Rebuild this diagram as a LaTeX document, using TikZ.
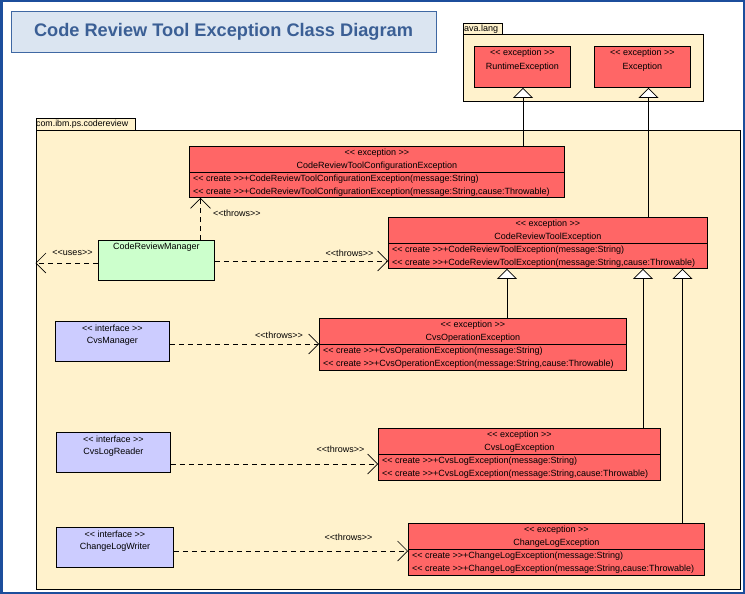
\documentclass[tikz,border=0pt]{standalone}
\usepackage{fontspec}
\setmainfont{Liberation Sans}
\usetikzlibrary{arrows.meta}
\definecolor{pkgfill}{HTML}{FFF2CC}
\definecolor{excfill}{HTML}{FF6666}
\definecolor{mgrfill}{HTML}{CCFFCC}
\definecolor{intfill}{HTML}{CCCCFF}
\definecolor{titlefill}{HTML}{DBE5F1}
\definecolor{titleline}{HTML}{3F68A3}
\definecolor{titletext}{HTML}{3B5F95}
\definecolor{frameblue}{HTML}{1C4E9C}
\newcommand\umlL{<\kern0pt<}
\newcommand\umlR{>\kern0pt>}
\newcommand\excbox[6]{%
  \node[exc, minimum width=#4pt-#2pt, minimum height=#5pt-#3pt] (#1) at (#2,#3) {};
  \draw[line width=0.9pt] ([yshift=-26.5pt]#1.north west) -- ([yshift=-26.5pt]#1.north east);
  \node[txt] (#1-st) at ([yshift=-7pt]#1.north) {\umlL{} exception \umlR};
  \node[txt] (#1-nm) at ([yshift=-20.5pt]#1.north) {#6};
  \node[txt, anchor=west] (#1-m1) at ([xshift=4pt,yshift=-33pt]#1.north west) {\umlL{} create \umlR{}+#6(message:String)};
  \node[txt, anchor=west] (#1-m2) at ([xshift=4pt,yshift=-46.5pt]#1.north west) {\umlL{} create \umlR{}+#6(message:String,cause:Throwable)};
}
\newcommand\intbox[6]{%
  \node[box, fill=intfill, minimum width=#4pt-#2pt, minimum height=#5pt-#3pt] (#1) at (#2,#3) {};
  \node[txt] (#1-st) at ([yshift=-7pt]#1.north) {\umlL{} interface \umlR};
  \node[txt] (#1-nm) at ([yshift=-20.5pt]#1.north) {#6};
}
\begin{document}
\begin{tikzpicture}[x=1pt,y=-1pt,
  txt/.style={inner sep=0pt, font=\fontsize{9}{10}\selectfont},
  box/.style={draw=black, line width=0.9pt, inner sep=0pt, anchor=north west},
  exc/.style={box, fill=excfill},
  pkg/.style={draw=black, line width=0.9pt, fill=pkgfill, inner sep=0pt, anchor=north west},
  dep/.style={draw=black, line width=0.8pt, dash pattern=on 5pt off 4pt,
    -{Straight Barb[length=10pt,width=20pt,line width=0.7pt]}},
  gen/.style={draw=black, line width=0.8pt,
    -{Triangle[length=10pt,width=20pt,fill=white,line width=0.7pt]}},
  lbl/.style={txt},
]
\useasboundingbox (0,0) rectangle (745,594);
\fill[white] (0,0) rectangle (745,594);
\draw[frameblue, line width=2.5pt] (1.25,1.25) rectangle (743.75,592.75);

% title
\node[draw=titleline, fill=titlefill, line width=1pt, minimum width=425pt, minimum height=41pt,
  anchor=north west, text=titletext, font=\fontsize{18.2}{20}\selectfont\bfseries] (title) at (10.5,11)
  {Code Review Tool Exception Class Diagram};

% java.lang package
\node[pkg, minimum width=39pt, minimum height=11pt] (jltab) at (463,23) {};
\node[txt, anchor=west, font=\fontsize{9}{10}\selectfont] (jltabtext) at ([xshift=0.8pt]jltab.west) {ava.lang};
\node[pkg, minimum width=240pt, minimum height=67pt] (jl) at (463,34) {};

% com.ibm.ps.codereview package
\node[pkg, minimum width=99pt, minimum height=12pt] (comtab) at (35.5,118) {};
\node[txt, anchor=west, font=\fontsize{8.8}{10}\selectfont] (comtabtext) at ([xshift=0.5pt]comtab.west) {com.ibm.ps.codereview};
\node[pkg, minimum width=704.5pt, minimum height=459pt] (com) at (35.5,130) {};

% java.lang classes
\node[exc, minimum width=96pt, minimum height=41pt] (rte) at (474,46) {};
\node[txt] (rte-st) at ([yshift=-7pt]rte.north) {\umlL{} exception \umlR};
\node[txt] (rte-nm) at ([yshift=-21pt]rte.north) {RuntimeException};
\node[exc, minimum width=96pt, minimum height=41pt] (exc) at (594,46) {};
\node[txt] (exc-st) at ([yshift=-7pt]exc.north) {\umlL{} exception \umlR};
\node[txt] (exc-nm) at ([yshift=-21pt]exc.north) {Exception};

% exceptions
\excbox{crtce}{189}{146}{564}{197}{CodeReviewToolConfigurationException}
\excbox{crte}{388}{217}{707}{268}{CodeReviewToolException}
\excbox{cvsop}{319}{318}{626}{370}{CvsOperationException}
\excbox{cvslog}{378}{428}{660}{480}{CvsLogException}
\excbox{chlog}{408}{523}{704}{575}{ChangeLogException}

% manager
\node[box, fill=mgrfill, minimum width=116pt, minimum height=40pt] (crm) at (98,240) {};
\node[txt] (crm-nm) at ([yshift=-7pt]crm.north) {CodeReviewManager};

% interfaces
\intbox{cvsmgr}{55}{321}{169}{361}{CvsManager}
\intbox{cvslr}{56}{432}{170}{472}{CvsLogReader}
\intbox{clw}{56}{527}{173}{567}{ChangeLogWriter}

% generalizations
\draw[gen] (crtce.north -| 523,0) -- (rte.south -| 523,0);
\draw[gen] (crte.north -| 648.5,0) -- (exc.south -| 648.5,0);
\draw[gen] (cvsop.north -| 507,0) -- (crte.south -| 507,0);
\draw[gen] (cvslog.north -| 643,0) -- (crte.south -| 643,0);
\draw[gen] (chlog.north -| 682.5,0) -- (crte.south -| 682.5,0);

% dependencies
\coordinate (usesend) at (com.west |- 0,263);
\draw[dep] (crm.west |- usesend) -- (usesend);
\node[lbl] (usesl) at (72.5,253) {\umlL{}uses\umlR};
\draw[dep] (crm.north -| 200.5,0) -- (crtce.south -| 200.5,0);
\node[lbl, anchor=west] (thr1) at (213,213) {\umlL{}throws\umlR};
\draw[dep] (crm.east |- 0,261) -- (crte.west |- 0,261);
\node[lbl] (thr2) at (349.5,253) {\umlL{}throws\umlR};
\draw[dep] (cvsmgr.east |- 0,344) -- (cvsop.west |- 0,344);
\node[lbl] (thr3) at (279,335) {\umlL{}throws\umlR};
\draw[dep] (cvslr.east |- 0,464) -- (cvslog.west |- 0,464);
\node[lbl] (thr4) at (340.5,449) {\umlL{}throws\umlR};
\draw[dep] (clw.east |- 0,551) -- (chlog.west |- 0,551);
\node[lbl] (thr5) at (348.5,537) {\umlL{}throws\umlR};
\end{tikzpicture}
\end{document}
